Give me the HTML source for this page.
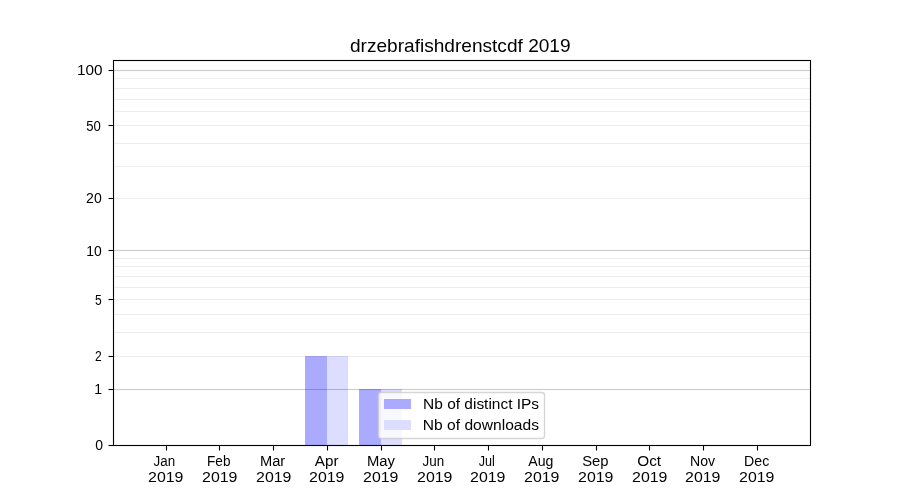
<!DOCTYPE html>
<html><head><meta charset="utf-8"><title>drzebrafishdrenstcdf 2019</title><style>html,body{margin:0;padding:0;background:#fff;width:900px;height:500px;overflow:hidden}svg{display:block;will-change:transform}text{font-family:"Liberation Sans",sans-serif;fill:#000}</style></head><body>
<svg width="900" height="500" viewBox="0 0 900 500">
<rect x="0" y="0" width="900" height="500" fill="#ffffff"/>
<g shape-rendering="crispEdges">
<rect x="305" y="356" width="22" height="89" fill="#aaaaff"/>
<rect x="327" y="356" width="21" height="89" fill="#ddddff"/>
<rect x="359" y="389" width="22" height="56" fill="#aaaaff"/>
<rect x="381" y="389" width="21" height="56" fill="#ddddff"/>
</g>
<g fill="#000000" shape-rendering="crispEdges">
<rect x="113" y="70" width="697" height="1" fill-opacity="0.2"/>
<rect x="113" y="69" width="697" height="1" fill-opacity="0.012"/>
<rect x="113" y="71" width="697" height="1" fill-opacity="0.012"/>
<rect x="113" y="250" width="697" height="1" fill-opacity="0.2"/>
<rect x="113" y="249" width="697" height="1" fill-opacity="0.012"/>
<rect x="113" y="251" width="697" height="1" fill-opacity="0.012"/>
<rect x="113" y="389" width="697" height="1" fill-opacity="0.2"/>
<rect x="113" y="388" width="697" height="1" fill-opacity="0.012"/>
<rect x="113" y="390" width="697" height="1" fill-opacity="0.012"/>
<rect x="113" y="78" width="697" height="1" fill-opacity="0.07"/>
<rect x="113" y="88" width="697" height="1" fill-opacity="0.07"/>
<rect x="113" y="99" width="697" height="1" fill-opacity="0.07"/>
<rect x="113" y="111" width="697" height="1" fill-opacity="0.07"/>
<rect x="113" y="125" width="697" height="1" fill-opacity="0.07"/>
<rect x="113" y="143" width="697" height="1" fill-opacity="0.07"/>
<rect x="113" y="166" width="697" height="1" fill-opacity="0.07"/>
<rect x="113" y="198" width="697" height="1" fill-opacity="0.07"/>
<rect x="113" y="258" width="697" height="1" fill-opacity="0.07"/>
<rect x="113" y="266" width="697" height="1" fill-opacity="0.07"/>
<rect x="113" y="276" width="697" height="1" fill-opacity="0.07"/>
<rect x="113" y="287" width="697" height="1" fill-opacity="0.07"/>
<rect x="113" y="299" width="697" height="1" fill-opacity="0.07"/>
<rect x="113" y="314" width="697" height="1" fill-opacity="0.07"/>
<rect x="113" y="332" width="697" height="1" fill-opacity="0.07"/>
<rect x="113" y="356" width="697" height="1" fill-opacity="0.07"/>
</g>
<g fill="#000000" shape-rendering="crispEdges">
<rect x="113" y="60" width="698" height="1"/>
<rect x="113" y="445" width="698" height="1"/>
<rect x="113" y="60" width="1" height="386"/>
<rect x="810" y="60" width="1" height="386"/>
<rect x="112" y="59" width="700" height="1" fill-opacity="0.055"/>
<rect x="112" y="61" width="700" height="1" fill-opacity="0.055"/>
<rect x="112" y="444" width="700" height="1" fill-opacity="0.055"/>
<rect x="112" y="446" width="700" height="1" fill-opacity="0.055"/>
<rect x="112" y="62" width="1" height="382" fill-opacity="0.055"/>
<rect x="114" y="62" width="1" height="382" fill-opacity="0.055"/>
<rect x="809" y="62" width="1" height="382" fill-opacity="0.055"/>
<rect x="811" y="62" width="1" height="382" fill-opacity="0.055"/>
<rect x="109" y="70" width="4" height="1"/>
<rect x="108" y="70" width="1" height="1" fill-opacity="0.5"/>
<rect x="109" y="69" width="3" height="1" fill-opacity="0.055"/>
<rect x="109" y="71" width="3" height="1" fill-opacity="0.055"/>
<rect x="109" y="125" width="4" height="1"/>
<rect x="108" y="125" width="1" height="1" fill-opacity="0.5"/>
<rect x="109" y="124" width="3" height="1" fill-opacity="0.055"/>
<rect x="109" y="126" width="3" height="1" fill-opacity="0.055"/>
<rect x="109" y="198" width="4" height="1"/>
<rect x="108" y="198" width="1" height="1" fill-opacity="0.5"/>
<rect x="109" y="197" width="3" height="1" fill-opacity="0.055"/>
<rect x="109" y="199" width="3" height="1" fill-opacity="0.055"/>
<rect x="109" y="250" width="4" height="1"/>
<rect x="108" y="250" width="1" height="1" fill-opacity="0.5"/>
<rect x="109" y="249" width="3" height="1" fill-opacity="0.055"/>
<rect x="109" y="251" width="3" height="1" fill-opacity="0.055"/>
<rect x="109" y="299" width="4" height="1"/>
<rect x="108" y="299" width="1" height="1" fill-opacity="0.5"/>
<rect x="109" y="298" width="3" height="1" fill-opacity="0.055"/>
<rect x="109" y="300" width="3" height="1" fill-opacity="0.055"/>
<rect x="109" y="356" width="4" height="1"/>
<rect x="108" y="356" width="1" height="1" fill-opacity="0.5"/>
<rect x="109" y="355" width="3" height="1" fill-opacity="0.055"/>
<rect x="109" y="357" width="3" height="1" fill-opacity="0.055"/>
<rect x="109" y="389" width="4" height="1"/>
<rect x="108" y="389" width="1" height="1" fill-opacity="0.5"/>
<rect x="109" y="388" width="3" height="1" fill-opacity="0.055"/>
<rect x="109" y="390" width="3" height="1" fill-opacity="0.055"/>
<rect x="109" y="445" width="4" height="1"/>
<rect x="108" y="445" width="1" height="1" fill-opacity="0.5"/>
<rect x="109" y="444" width="3" height="1" fill-opacity="0.055"/>
<rect x="109" y="446" width="3" height="1" fill-opacity="0.055"/>
<rect x="166" y="446" width="1" height="4"/>
<rect x="166" y="450" width="1" height="1" fill-opacity="0.5"/>
<rect x="165" y="447" width="1" height="3" fill-opacity="0.055"/>
<rect x="167" y="447" width="1" height="3" fill-opacity="0.055"/>
<rect x="219" y="446" width="1" height="4"/>
<rect x="219" y="450" width="1" height="1" fill-opacity="0.5"/>
<rect x="218" y="447" width="1" height="3" fill-opacity="0.055"/>
<rect x="220" y="447" width="1" height="3" fill-opacity="0.055"/>
<rect x="273" y="446" width="1" height="4"/>
<rect x="273" y="450" width="1" height="1" fill-opacity="0.5"/>
<rect x="272" y="447" width="1" height="3" fill-opacity="0.055"/>
<rect x="274" y="447" width="1" height="3" fill-opacity="0.055"/>
<rect x="327" y="446" width="1" height="4"/>
<rect x="327" y="450" width="1" height="1" fill-opacity="0.5"/>
<rect x="326" y="447" width="1" height="3" fill-opacity="0.055"/>
<rect x="328" y="447" width="1" height="3" fill-opacity="0.055"/>
<rect x="381" y="446" width="1" height="4"/>
<rect x="381" y="450" width="1" height="1" fill-opacity="0.5"/>
<rect x="380" y="447" width="1" height="3" fill-opacity="0.055"/>
<rect x="382" y="447" width="1" height="3" fill-opacity="0.055"/>
<rect x="434" y="446" width="1" height="4"/>
<rect x="434" y="450" width="1" height="1" fill-opacity="0.5"/>
<rect x="433" y="447" width="1" height="3" fill-opacity="0.055"/>
<rect x="435" y="447" width="1" height="3" fill-opacity="0.055"/>
<rect x="488" y="446" width="1" height="4"/>
<rect x="488" y="450" width="1" height="1" fill-opacity="0.5"/>
<rect x="487" y="447" width="1" height="3" fill-opacity="0.055"/>
<rect x="489" y="447" width="1" height="3" fill-opacity="0.055"/>
<rect x="542" y="446" width="1" height="4"/>
<rect x="542" y="450" width="1" height="1" fill-opacity="0.5"/>
<rect x="541" y="447" width="1" height="3" fill-opacity="0.055"/>
<rect x="543" y="447" width="1" height="3" fill-opacity="0.055"/>
<rect x="596" y="446" width="1" height="4"/>
<rect x="596" y="450" width="1" height="1" fill-opacity="0.5"/>
<rect x="595" y="447" width="1" height="3" fill-opacity="0.055"/>
<rect x="597" y="447" width="1" height="3" fill-opacity="0.055"/>
<rect x="649" y="446" width="1" height="4"/>
<rect x="649" y="450" width="1" height="1" fill-opacity="0.5"/>
<rect x="648" y="447" width="1" height="3" fill-opacity="0.055"/>
<rect x="650" y="447" width="1" height="3" fill-opacity="0.055"/>
<rect x="703" y="446" width="1" height="4"/>
<rect x="703" y="450" width="1" height="1" fill-opacity="0.5"/>
<rect x="702" y="447" width="1" height="3" fill-opacity="0.055"/>
<rect x="704" y="447" width="1" height="3" fill-opacity="0.055"/>
<rect x="757" y="446" width="1" height="4"/>
<rect x="757" y="450" width="1" height="1" fill-opacity="0.5"/>
<rect x="756" y="447" width="1" height="3" fill-opacity="0.055"/>
<rect x="758" y="447" width="1" height="3" fill-opacity="0.055"/>
</g>
<rect x="378.5" y="392.5" width="166" height="46" rx="2.78" ry="2.78" fill="#ffffff" fill-opacity="0.8" stroke="#cccccc" stroke-opacity="0.8" stroke-width="1.39"/>
<g shape-rendering="crispEdges">
<rect x="384" y="399" width="27" height="10" fill="#aaaaff"/>
<rect x="384" y="420" width="27" height="10" fill="#ddddff"/>
</g>
<text transform="translate(349.92,51.70) scale(1.0607,1)" font-size="18.00">drzebrafishdrenstcdf 2019</text>
<text transform="translate(76.93,74.70) scale(1.0413,1)" font-size="14.70">100</text>
<text transform="translate(86.17,130.70) scale(0.8938,1)" font-size="14.70">50</text>
<text transform="translate(86.12,202.70) scale(0.9559,1)" font-size="14.70">20</text>
<text transform="translate(86.37,255.70) scale(0.9483,1)" font-size="14.70">10</text>
<text transform="translate(95.08,304.70) scale(0.8229,1)" font-size="14.70">5</text>
<text transform="translate(95.06,360.70) scale(0.8229,1)" font-size="14.70">2</text>
<text transform="translate(94.35,393.70) scale(0.9574,1)" font-size="14.70">1</text>
<text transform="translate(95.31,449.70) scale(0.9514,1)" font-size="14.70">0</text>
<text transform="translate(153.53,465.70) scale(0.9121,1)" font-size="14.70">Jan</text>
<text transform="translate(148.04,481.70) scale(1.0839,1)" font-size="14.70">2019</text>
<text transform="translate(207.07,465.70) scale(0.9226,1)" font-size="14.70">Feb</text>
<text transform="translate(202.04,481.70) scale(1.0839,1)" font-size="14.70">2019</text>
<text transform="translate(260.00,465.70) scale(0.9982,1)" font-size="14.70">Mar</text>
<text transform="translate(256.04,481.70) scale(1.0839,1)" font-size="14.70">2019</text>
<text transform="translate(314.86,465.70) scale(1.0357,1)" font-size="14.70">Apr</text>
<text transform="translate(309.04,481.70) scale(1.0839,1)" font-size="14.70">2019</text>
<text transform="translate(366.88,465.70) scale(1.0080,1)" font-size="14.70">May</text>
<text transform="translate(363.04,481.70) scale(1.0839,1)" font-size="14.70">2019</text>
<text transform="translate(422.60,465.70) scale(0.9121,1)" font-size="14.70">Jun</text>
<text transform="translate(417.04,481.70) scale(1.0839,1)" font-size="14.70">2019</text>
<text transform="translate(478.75,465.70) scale(0.8573,1)" font-size="14.70">Jul</text>
<text transform="translate(470.04,481.70) scale(1.0839,1)" font-size="14.70">2019</text>
<text transform="translate(528.28,465.70) scale(0.9618,1)" font-size="14.70">Aug</text>
<text transform="translate(524.04,481.70) scale(1.0839,1)" font-size="14.70">2019</text>
<text transform="translate(582.17,465.70) scale(1.0107,1)" font-size="14.70">Sep</text>
<text transform="translate(578.04,481.70) scale(1.0839,1)" font-size="14.70">2019</text>
<text transform="translate(637.26,465.70) scale(1.0435,1)" font-size="14.70">Oct</text>
<text transform="translate(632.04,481.70) scale(1.0839,1)" font-size="14.70">2019</text>
<text transform="translate(690.02,465.70) scale(0.9618,1)" font-size="14.70">Nov</text>
<text transform="translate(685.04,481.70) scale(1.0839,1)" font-size="14.70">2019</text>
<text transform="translate(744.12,465.70) scale(0.9635,1)" font-size="14.70">Dec</text>
<text transform="translate(739.04,481.70) scale(1.0839,1)" font-size="14.70">2019</text>
<text transform="translate(423.12,408.70) scale(1.0524,1)" font-size="14.70">Nb of distinct IPs</text>
<text transform="translate(422.84,429.70) scale(1.0615,1)" font-size="14.70">Nb of downloads</text>
</svg></body></html>
